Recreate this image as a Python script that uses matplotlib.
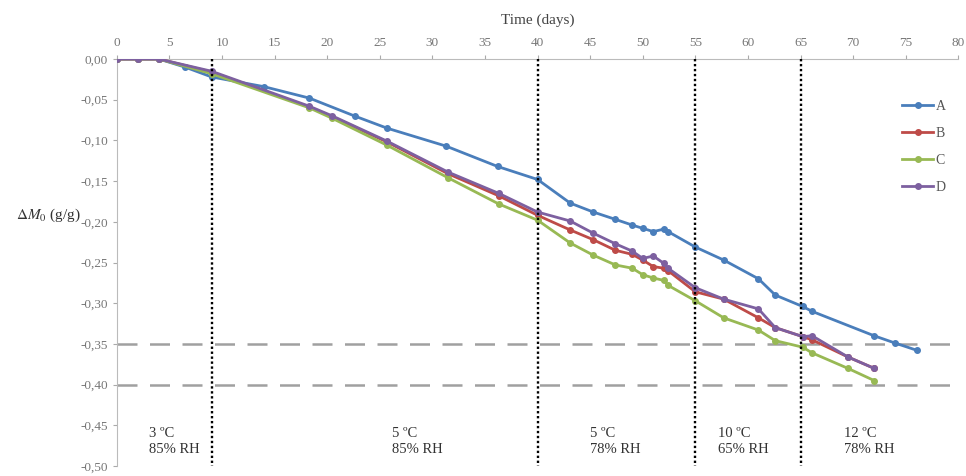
import matplotlib.pyplot as plt
from matplotlib.ticker import FuncFormatter

# data
days_A = [0, 2, 4, 6.5, 9, 14, 18.3, 22.6, 25.7, 31.3, 36.2, 40, 43.1, 45.3, 47.4, 49, 50, 51,
          52, 52.4, 55, 57.7, 61, 62.6, 65.2, 66.1, 72, 74, 76.1]
val_A = [0, 0, 0, -0.010, -0.022, -0.034, -0.048, -0.070, -0.085, -0.107, -0.132, -0.148, -0.177,
         -0.188, -0.197, -0.204, -0.208, -0.212, -0.209, -0.212, -0.231, -0.247, -0.270, -0.290,
         -0.304, -0.310, -0.340, -0.349, -0.358]

days_BCD = [0, 2, 4, 9, 18.3, 20.5, 25.7, 31.5, 36.3, 40, 43.1, 45.3, 47.4, 49, 50, 51, 52, 52.4,
            55, 57.7, 61, 62.6, 65.2, 66.1, 69.5, 72]
val_B = [0, 0, 0, -0.016, -0.059, -0.071, -0.102, -0.141, -0.168, -0.192, -0.210, -0.222, -0.235,
         -0.240, -0.247, -0.255, -0.257, -0.260, -0.286, -0.295, -0.318, -0.330, -0.341, -0.345,
         -0.366, -0.380]
val_C = [0, 0, 0, -0.018, -0.060, -0.073, -0.106, -0.146, -0.178, -0.198, -0.226, -0.241, -0.253,
         -0.257, -0.265, -0.269, -0.272, -0.278, -0.297, -0.318, -0.333, -0.346, -0.354, -0.361,
         -0.380, -0.395]
val_D = [0, 0, 0, -0.015, -0.058, -0.070, -0.101, -0.139, -0.165, -0.188, -0.199, -0.214, -0.227,
         -0.236, -0.245, -0.242, -0.251, -0.257, -0.281, -0.295, -0.307, -0.330, -0.341, -0.340,
         -0.366, -0.380]

series = {"A": (days_A, val_A), "B": (days_BCD, val_B), "C": (days_BCD, val_C), "D": (days_BCD, val_D)}
colors = {"A": "#4a7ebb", "B": "#be4b48", "C": "#98b954", "D": "#7d60a0"}

stage_days = [9, 40, 55, 65]
limits = [-0.35, -0.40]
stage_labels = ["3 ºC\n85% RH", "5 ºC\n85% RH", "5 ºC\n78% RH", "10 ºC\n65% RH", "12 ºC\n78% RH"]
stage_label_x = [3.1, 26.2, 45.0, 57.2, 69.1]

plt.rcParams['font.family'] = ['Liberation Serif', 'DejaVu Serif']
plt.rcParams['mathtext.fontset'] = 'stix'


def comma_fmt(v, pos):
    if abs(v) < 1e-9:
        v = 0.0
    return f"{v:.2f}".replace(".", ",")


fig = plt.figure(figsize=(9.66, 4.76), dpi=100)
ax = fig.add_axes([0.121, 0.021, 0.871, 0.855])

for y in limits:
    ax.axhline(y, color="#a0a0a0", linestyle=(0, (8, 5)), linewidth=1.8, zorder=1)
for x in stage_days:
    ax.plot([x, x], [0, -0.5], color="black", linestyle=(0, (1, 1.1)), linewidth=1.7, zorder=4)

for name in ["A", "B", "C", "D"]:
    xs, ys = series[name]
    ax.plot(xs, ys, color=colors[name], linewidth=2, marker="o", markersize=4, label=name, zorder=3)

for x, txt in zip(stage_label_x, stage_labels):
    ax.text(x, -0.47, txt, fontsize=10.5, ha="left", va="center", color="#333333", linespacing=1.3)

ax.set_xlim(0, 80)
ax.set_ylim(-0.5, 0)
ax.set_xticks(range(0, 81, 5))
ax.set_yticks([i * -0.05 for i in range(11)])
ax.yaxis.set_major_formatter(FuncFormatter(comma_fmt))
ax.xaxis.tick_top()
ax.xaxis.set_label_position("top")
ax.tick_params(axis="both", colors="#aaaaaa", labelcolor="#777777", labelsize=9.5, length=3)
ax.tick_params(axis="x", pad=4)
for side in ["right", "bottom"]:
    ax.spines[side].set_visible(False)
for side in ["top", "left"]:
    ax.spines[side].set_color("#bbbbbb")

ax.set_xlabel("Time (days)", fontsize=11, color="#444444", labelpad=10)
ax.set_ylabel(r"$\mathrm{\Delta}M_0$ (g/g)", fontsize=11, color="#333333", rotation=0)
ax.yaxis.set_label_coords(-0.082, 0.595)

ax.legend(loc="upper right", bbox_to_anchor=(1.0, 0.93), frameon=False, fontsize=10,
          handlelength=2.2, labelspacing=1.0, handletextpad=0.2, labelcolor="#555555")

fig.savefig("out.png", dpi=100)
